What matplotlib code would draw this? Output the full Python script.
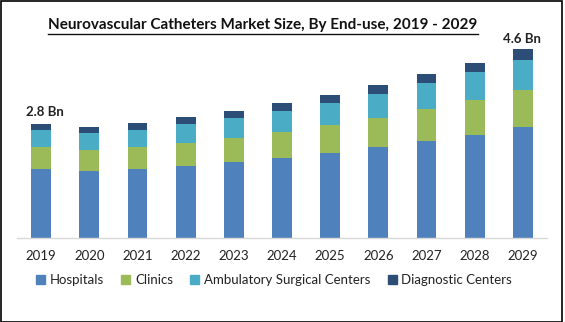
import matplotlib.pyplot as plt
import matplotlib.patches as mpatches
from matplotlib.lines import Line2D
import numpy as np

years = ["2019", "2020", "2021", "2022", "2023", "2024",
         "2025", "2026", "2027", "2028", "2029"]

# market size by end-use, USD Bn
hospitals = [1.68, 1.63, 1.68, 1.76, 1.85, 1.95, 2.07, 2.22, 2.37, 2.51, 2.71]
clinics = [0.54, 0.51, 0.54, 0.56, 0.59, 0.63, 0.68, 0.71, 0.78, 0.85, 0.90]
ambulatory = [0.41, 0.41, 0.41, 0.46, 0.49, 0.51, 0.54, 0.59, 0.63, 0.68, 0.73]
diagnostic = [0.15, 0.15, 0.17, 0.17, 0.17, 0.20, 0.20, 0.22, 0.22, 0.24, 0.27]

segment_names = ["Hospitals", "Clinics", "Ambulatory Surgical Centers", "Diagnostic Centers"]
colors = ["#4F81BD", "#9BBB59", "#4BACC6", "#2C4D75"]

first_label = "2.8 Bn"
last_label = "4.6 Bn"

plt.rcParams['font.family'] = ['Lato', 'DejaVu Sans']

W, H = 565, 322
fig = plt.figure(figsize=(W / 100, H / 100), dpi=100)
fig.patch.set_facecolor("white")

ax = fig.add_axes([17 / W, (H - 238) / H, 530 / W, 208 / H])

x = np.arange(len(years))
series = [hospitals, clinics, ambulatory, diagnostic]
bottom = np.zeros(len(years))
for vals, col, name in zip(series, colors, segment_names):
    ax.bar(x, vals, width=0.41, bottom=bottom, color=col, label=name)
    bottom += np.array(vals)

ax.set_xlim(-0.5, len(years) - 0.5)
ax.set_ylim(0, 208 / 41)
ax.set_yticks([])
ax.set_xticks(x)
ax.set_xticklabels(years, fontsize=9.5, color="#222222")
ax.tick_params(axis="x", length=0, pad=9)
for s in ["top", "right", "left"]:
    ax.spines[s].set_visible(False)
ax.spines["bottom"].set_color("#D9D9D9")
ax.spines["bottom"].set_linewidth(1)

ax.annotate(first_label, (x[0], bottom[0]), xytext=(3, 4), textcoords="offset points",
            ha="center", va="bottom", fontsize=9.5, fontweight="bold", color="#222222")
ax.annotate(last_label, (x[-1], bottom[-1]), xytext=(-1, 3), textcoords="offset points",
            ha="center", va="bottom", fontsize=9.5, fontweight="bold", color="#222222")

# title with underline
title = fig.text(263 / W, 1 - 25 / H, "Neurovascular Catheters Market Size, By End-use, 2019 - 2029",
                 ha="center", va="center", fontsize=11, fontweight="bold", color="#111111")
fig.canvas.draw()
bb = title.get_window_extent(fig.canvas.get_renderer())
uy = (bb.y0 - 1.5) / H
fig.add_artist(Line2D([bb.x0 / W, bb.x1 / W], [uy, uy], color="#111111", lw=1.0))

handles = [mpatches.Patch(color=c) for c in colors]
fig.legend(handles, segment_names, loc="center", bbox_to_anchor=(274 / W, 1 - 280 / H),
           ncol=4, frameon=False, fontsize=9.5, handlelength=0.7, handleheight=0.7,
           handletextpad=0.35, columnspacing=1.3, labelcolor="#222222")

# black frame round the picture
fig.add_artist(mpatches.Rectangle((0.5 / W, 0.5 / H), 561 / W, (H - 1.5) / H,
                                  fill=False, edgecolor="black", lw=1.2,
                                  transform=fig.transFigure))

fig.savefig("out.png", dpi=100)
